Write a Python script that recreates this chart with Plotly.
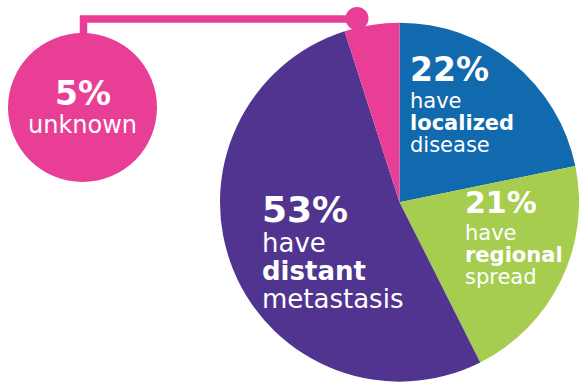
import plotly.graph_objects as go

# Stage at diagnosis (percent of patients)
stages = ["localized", "regional", "distant", "unknown"]
shares = [22, 21, 53, 5]
colors = ["#1169ae", "#a6cd4f", "#50348f", "#e93e96"]

W, H = 579, 385
FONT = "DejaVu Sans"

fig = go.Figure()

fig.add_trace(go.Pie(
    labels=stages,
    values=shares,
    sort=False,
    direction="clockwise",
    rotation=0,
    marker=dict(colors=colors, line=dict(width=0)),
    textinfo="none",
    hoverinfo="label+value",
    showlegend=False,
    domain=dict(x=[220 / W, 1.0], y=[0.005, 0.945]),
))

pink = colors[3]

# Callout for the "unknown" slice: bubble, connector and dot on the rim
shapes = [
    dict(type="circle", x0=8, x1=157, y0=33, y1=182,
         fillcolor=pink, line=dict(width=0)),
    dict(type="path", path="M 83.5 36 L 83.5 19 L 357 19",
         line=dict(color=pink, width=7.5)),
    dict(type="circle", x0=345.5, x1=368.5, y0=7, y1=30,
         fillcolor=pink, line=dict(width=0)),
]
for s in shapes:
    s.update(xref="x", yref="y", layer="above")


def line(text, x, y, size, bold=False, anchor="left"):
    if bold:
        text = f"<b>{text}</b>"
    fig.add_annotation(
        x=x, y=y, xref="x", yref="y", text=text, showarrow=False,
        xanchor=anchor, yanchor="middle",
        font=dict(family=FONT, size=size, color="white"),
    )


# localized
line("22%", 408, 69.5, 33, bold=True)
line("have", 408, 100.5, 21)
line("localized", 408, 122.5, 21, bold=True)
line("disease", 408, 145, 21)

# regional
line("21%", 463, 202.5, 30, bold=True)
line("have", 463, 232.5, 21)
line("regional", 463, 254.5, 21, bold=True)
line("spread", 463, 276.5, 21)

# distant
line("53%", 260, 209, 36, bold=True)
line("have", 260, 243, 26)
line("distant", 260, 271, 26, bold=True)
line("metastasis", 260, 299, 26)

# unknown
line("5%", 82.5, 93.5, 33, bold=True, anchor="center")
line("unknown", 82.5, 125, 24, anchor="center")

fig.update_layout(
    width=W, height=H,
    margin=dict(l=0, r=0, t=0, b=0),
    paper_bgcolor="white",
    plot_bgcolor="rgba(0,0,0,0)",
    shapes=shapes,
    xaxis=dict(range=[0, W], visible=False, domain=[0, 1], fixedrange=True),
    yaxis=dict(range=[H, 0], visible=False, domain=[0, 1], fixedrange=True),
)

fig.write_html("out.html")
